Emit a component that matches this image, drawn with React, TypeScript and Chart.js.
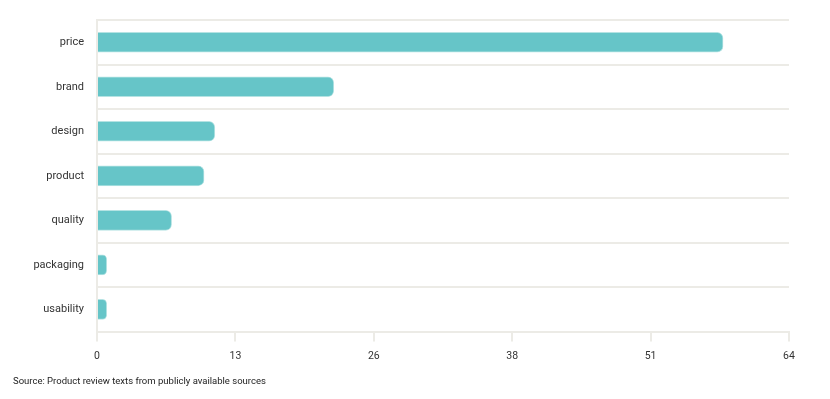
import React, { useEffect, useRef } from "react";
import { Chart, registerables } from "chart.js";

Chart.register(...registerables);

const categories = ["price", "brand", "design", "product", "quality", "packaging", "usability"];
const values = [57.9, 21.9, 10.9, 9.9, 6.9, 0.9, 0.9];
const xTicks = [0, 12.8, 25.6, 38.4, 51.2, 64];
const sourceText = "Source: Product review texts from publicly available sources";

export default function App() {
  const ref = useRef<HTMLCanvasElement>(null);
  useEffect(() => {
    document.body.style.margin = "0";
    const ctx = ref.current!;
    const font = "Roboto, 'DejaVu Sans', sans-serif";
    const chart = new Chart(ctx, {
      type: "bar",
      data: {
        labels: categories,
        datasets: [
          {
            data: values,
            backgroundColor: "#66c5c8",
            borderColor: "#b5e3e3",
            borderWidth: 1,
            borderRadius: 6,
            borderSkipped: "start",
            barThickness: 20,
          },
        ],
      },
      options: {
        indexAxis: "y",
        animation: false,
        responsive: false,
        maintainAspectRatio: false,
        layout: { padding: { left: 13, right: 41, top: 20, bottom: 0 } },
        plugins: {
          legend: { display: false },
          tooltip: { enabled: false },
          title: {
            display: true,
            text: sourceText,
            position: "bottom",
            align: "start",
            color: "#222",
            font: { family: font, size: 9.5, weight: "normal" },
            padding: { top: 14, bottom: 12 },
          },
        },
        scales: {
          x: {
            type: "linear",
            min: 0,
            max: 64,
            afterBuildTicks: (s: any) => {
              s.ticks = xTicks.map((v) => ({ value: v }));
            },
            afterFit: (s: any) => {
              s.height = 30;
            },
            ticks: {
              color: "#333",
              font: { family: font, size: 10.5 },
              padding: 8,
              callback: (v: any) => String(Math.round(Number(v))),
              maxRotation: 0,
            },
            grid: {
              drawOnChartArea: false,
              drawTicks: true,
              tickLength: 10,
              color: "#ecebe6",
              lineWidth: 2,
            },
            border: { display: true, color: "#ecebe6", width: 2 },
          },
          y: {
            afterFit: (s: any) => {
              s.width = 84;
            },
            ticks: {
              color: "#333",
              font: { family: font, size: 11 },
              padding: 13,
            },
            grid: {
              offset: true,
              drawTicks: false,
              color: "#ecebe6",
              lineWidth: 2,
            },
            border: { display: true, color: "#ecebe6", width: 2 },
          },
        },
      },
    });
    return () => chart.destroy();
  }, []);
  return <canvas ref={ref} width={830} height={399} style={{ display: "block" }} />;
}
